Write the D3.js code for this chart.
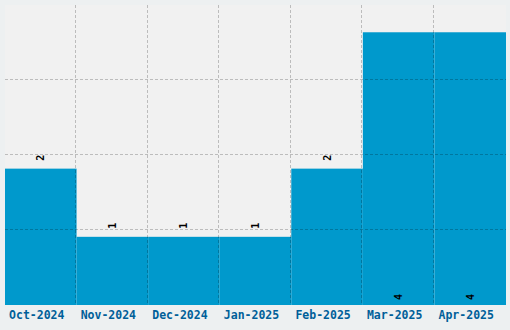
<!DOCTYPE html>
<html lang="en">
<head>
    <meta charset="utf-8">
    <title>Monthly counts</title>
    <script src="https://cdn.jsdelivr.net/npm/d3@7"></script>
    <style>
        body { margin: 0; background: #edf0f1; }
        svg { display: block; }
    </style>
</head>
<body>
<div id="chart"></div>
<script>
    // data
    const months = ['Oct-2024', 'Nov-2024', 'Dec-2024', 'Jan-2025', 'Feb-2025', 'Mar-2025', 'Apr-2025'];
    const counts = [2, 1, 1, 1, 2, 4, 4];
    const gridValues = [1.1, 2.2, 3.3];

    const W = 510, H = 330;
    const margin = {top: 5, right: 4, bottom: 25, left: 5};
    const width = W - margin.left - margin.right;
    const height = H - margin.top - margin.bottom;

    const svg = d3.select("#chart")
        .append("svg")
            .attr("width", W)
            .attr("height", H)
        .append("g")
            .attr("transform", "translate(" + margin.left + "," + margin.top + ")");

    const x = d3.scaleBand()
        .domain(months)
        .range([0, width])
        .padding(0);

    const y = d3.scaleLinear()
        .domain([0, 4.4])
        .range([height, 0]);

    // plot background
    svg.append("rect")
        .attr("width", width)
        .attr("height", height)
        .attr("fill", "#f1f1f1");

    // bars
    svg.selectAll(".bar")
        .data(counts)
        .enter()
        .append("rect")
            .attr("class", "bar")
            .attr("x", (d, i) => x(months[i]))
            .attr("y", d => y(d))
            .attr("width", x.bandwidth())
            .attr("height", d => height - y(d))
            .attr("fill", "#0099cc");

    // grid lines over the bars
    const grid = svg.append("g")
        .attr("stroke", "rgba(0,0,0,0.22)")
        .attr("stroke-dasharray", "3,2");

    grid.selectAll(".vgrid")
        .data(months.slice(1))
        .enter()
        .append("line")
            .attr("x1", d => Math.floor(x(d)) - 0.5)
            .attr("x2", d => Math.floor(x(d)) - 0.5)
            .attr("y1", 0)
            .attr("y2", height);

    grid.selectAll(".hgrid")
        .data(gridValues)
        .enter()
        .append("line")
            .attr("x1", 0)
            .attr("x2", width)
            .attr("y1", d => Math.floor(y(d)) - 0.5)
            .attr("y2", d => Math.floor(y(d)) - 0.5);

    // value labels, rotated
    svg.selectAll(".val")
        .data(counts)
        .enter()
        .append("text")
            .attr("class", "val")
            .attr("transform", (d, i) => {
                const cx = x(months[i]) + x.bandwidth() / 2;
                const ty = d >= 4 ? height - 5 : y(d) - 8;
                return "translate(" + cx + "," + ty + ") rotate(-90)";
            })
            .attr("dy", "0.35em")
            .attr("text-anchor", "start")
            .style("font-family", "'DejaVu Sans Mono', monospace")
            .style("font-weight", "bold")
            .style("font-size", "10px")
            .attr("fill", "#000")
            .text(d => d);

    // x axis labels
    svg.append("g")
        .attr("transform", "translate(0," + height + ")")
        .selectAll("text")
        .data(months)
        .enter()
        .append("text")
            .attr("x", d => x(d) + x.bandwidth() / 2 - 4)
            .attr("y", 14)
            .attr("text-anchor", "middle")
            .style("font-family", "'DejaVu Sans Mono', monospace")
            .style("font-weight", "bold")
            .style("font-size", "11.5px")
            .attr("fill", "#005f99")
            .text(d => d);
</script>
</body>
</html>
